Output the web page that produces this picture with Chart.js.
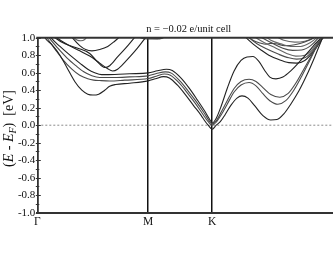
<!DOCTYPE html>
<html><head><meta charset="utf-8">
<script src="https://cdn.jsdelivr.net/npm/chart.js@4/dist/chart.umd.min.js"></script>
<style>html,body{margin:0;padding:0;background:#fff;overflow:hidden;width:333px;height:258px}canvas{display:block}</style>
</head><body>
<canvas id="c" width="346" height="258"></canvas>
<script>
const chartTitle = 'n = \u22120.02 e/unit cell';
const kPointLabels = ['\u0393', 'M', 'K', '\u0393'];
const kPointPos = [0, 0.5774, 0.9107, 1.5774];
const yMin = -1.0, yMax = 1.0, yStep = 0.2, yMinorStep = 0.1;

// bands: k (path coordinate) and E - E_F (eV)
const band1K = [0.014,0.040,0.076,0.118,0.154,0.195,0.232,0.263,0.289,0.320,0.351,0.377,0.408,0.481,0.577,0.615,0.657,0.688,0.729,0.771,0.812,0.854,0.869,0.890,0.911,0.932,0.953,0.978,1.009,1.040,1.066,1.097,1.133,1.175,1.216,1.248,1.284,1.320,1.362,1.403,1.445,1.486,1.507];
const band1E = [1.14,1.00,0.92,0.80,0.66,0.50,0.40,0.355,0.345,0.355,0.40,0.445,0.465,0.48,0.507,0.53,0.555,0.54,0.46,0.35,0.23,0.11,0.06,0.00,-0.046,0.00,0.04,0.12,0.23,0.31,0.335,0.31,0.22,0.11,0.06,0.065,0.13,0.24,0.39,0.57,0.78,1.00,1.10];

const band2K = [0.014,0.050,0.092,0.133,0.180,0.221,0.263,0.294,0.325,0.377,0.455,0.577,0.620,0.662,0.693,0.740,0.781,0.823,0.864,0.890,0.911,0.932,0.958,0.989,1.025,1.061,1.103,1.139,1.175,1.211,1.253,1.294,1.336,1.377,1.419,1.455,1.481,1.502];
const band2E = [1.12,1.00,0.87,0.75,0.64,0.57,0.53,0.515,0.51,0.505,0.515,0.533,0.56,0.585,0.57,0.48,0.37,0.25,0.12,0.04,0.00,0.035,0.12,0.24,0.38,0.46,0.488,0.45,0.36,0.28,0.24,0.28,0.40,0.56,0.74,0.90,1.00,1.10];

const band3K = [0.024,0.061,0.107,0.154,0.201,0.242,0.284,0.325,0.403,0.481,0.577,0.620,0.667,0.698,0.745,0.786,0.828,0.869,0.895,0.911,0.932,0.958,0.989,1.025,1.061,1.103,1.139,1.175,1.216,1.263,1.305,1.346,1.388,1.429,1.465,1.486,1.507];
const band3E = [1.12,1.00,0.88,0.77,0.68,0.61,0.565,0.545,0.545,0.552,0.564,0.59,0.61,0.595,0.50,0.39,0.27,0.14,0.05,0.015,0.05,0.15,0.28,0.42,0.50,0.526,0.50,0.43,0.35,0.32,0.36,0.48,0.64,0.80,0.94,1.00,1.08];

const band4K = [0.035,0.071,0.118,0.170,0.221,0.263,0.299,0.335,0.403,0.481,0.577,0.626,0.672,0.703,0.750,0.792,0.833,0.875,0.898,0.911,0.932,0.958,0.989,1.025,1.061,1.092,1.123,1.154,1.186,1.211,1.243,1.279,1.320,1.372,1.424,1.465,1.491,1.507];
const band4E = [1.12,1.00,0.90,0.80,0.71,0.64,0.60,0.578,0.58,0.588,0.598,0.622,0.64,0.625,0.535,0.42,0.29,0.15,0.065,0.025,0.08,0.22,0.42,0.62,0.74,0.78,0.785,0.73,0.62,0.55,0.53,0.55,0.62,0.74,0.87,0.97,1.00,1.05];

const bandV1K = [0.040,0.092,0.144,0.211,0.273,0.315,0.351,0.377,0.418,0.460,0.506,0.522];
const bandV1E = [1.10,1.00,0.93,0.88,0.82,0.72,0.66,0.68,0.78,0.88,1.00,1.04];
const bandV2K = [0.050,0.102,0.159,0.221,0.273,0.325,0.367,0.392,0.418,0.460,0.506,0.564,0.579];
const bandV2E = [1.10,1.00,0.92,0.85,0.79,0.71,0.645,0.62,0.64,0.73,0.84,1.00,1.04];
const bandSK = [0.170,0.190,0.221,0.252,0.284,0.325,0.367,0.403,0.434];
const bandSE = [1.04,0.98,0.91,0.865,0.85,0.865,0.90,0.96,1.02];
const bandLK = [0.180,0.206,0.227,0.247,0.263];
const bandLE = [1.02,0.975,0.965,0.98,1.02];
const bandT1K = [0.512,0.537,0.577,0.615,0.652,0.678];
const bandT1E = [1.04,1.00,0.985,0.985,0.995,1.03];
const bandT2K = [0.543,0.577,0.626,0.662];
const bandT2E = [1.03,0.995,0.99,1.01];

const bandU1K = [1.066,1.087,1.123,1.165,1.206,1.258,1.310,1.351,1.393,1.434,1.476,1.497];
const bandU1E = [1.05,1.00,0.93,0.86,0.80,0.75,0.715,0.71,0.74,0.83,0.96,1.04];
const bandU2K = [1.082,1.103,1.144,1.196,1.258,1.310,1.351,1.393,1.434,1.476,1.491];
const bandU2E = [1.05,1.00,0.93,0.87,0.81,0.77,0.755,0.77,0.85,0.98,1.04];
const bandU3K = [1.113,1.139,1.186,1.243,1.299,1.346,1.393,1.434,1.476,1.491];
const bandU3E = [1.05,1.00,0.94,0.88,0.82,0.79,0.80,0.87,1.00,1.05];
const bandU4K = [1.144,1.170,1.222,1.279,1.330,1.377,1.424,1.465,1.481];
const bandU4E = [1.04,1.00,0.94,0.88,0.855,0.86,0.91,1.00,1.05];
const bandU5K = [1.180,1.216,1.268,1.320,1.372,1.419,1.455,1.470];
const bandU5E = [1.03,0.97,0.93,0.90,0.90,0.94,1.00,1.04];
const bandU6K = [1.087,1.123,1.160,1.191,1.216,1.243,1.289,1.341,1.393,1.440,1.455];
const bandU6E = [1.03,0.97,0.94,0.925,0.935,0.93,0.91,0.92,0.95,1.00,1.03];
const bandU7K = [1.232,1.284,1.341,1.393,1.434,1.455];
const bandU7E = [1.03,0.97,0.95,0.96,0.99,1.02];

const fermiK = [0, 1.5774];
const fermiE = [0, 0];

function pts(ks, es) { return ks.map((k, i) => ({ x: k, y: es[i] })); }
function band(ks, es, color) {
  return { data: pts(ks, es), showLine: true, borderColor: color, borderWidth: 1.1,
           pointRadius: 0, fill: false, cubicInterpolationMode: 'monotone' };
}
const dark = '#222', mid = '#4a4a4a', light = '#666';
const datasets = [
  band(band1K, band1E, dark), band(band2K, band2E, mid), band(band3K, band3E, mid), band(band4K, band4E, dark),
  band(bandV1K, bandV1E, dark), band(bandV2K, bandV2E, dark), band(bandSK, bandSE, dark), band(bandLK, bandLE, light),
  band(bandT1K, bandT1E, mid), band(bandT2K, bandT2E, light),
  band(bandU1K, bandU1E, dark), band(bandU2K, bandU2E, mid), band(bandU3K, bandU3E, light), band(bandU4K, bandU4E, mid),
  band(bandU5K, bandU5E, light), band(bandU6K, bandU6E, mid), band(bandU7K, bandU7E, light),
  { data: pts(fermiK, fermiE), showLine: true, borderColor: '#8a8a8a', borderWidth: 1, borderDash: [2, 2], pointRadius: 0 }
];

const serif = "'Liberation Serif', 'Times New Roman', serif";

const decor = {
  id: 'decor',
  afterDraw(chart) {
    const { ctx, chartArea: a, scales: { y } } = chart;
    ctx.save();
    ctx.strokeStyle = '#333'; ctx.lineWidth = 2;
    ctx.beginPath(); ctx.moveTo(a.left - 1, a.top); ctx.lineTo(a.right, a.top); ctx.stroke();
    ctx.lineWidth = 1; ctx.strokeStyle = '#333';
    for (let v = yMin; v <= yMax + 1e-9; v += yMinorStep) {
      const py = Math.round(y.getPixelForValue(v)) + 0.5;
      const major = Math.abs(Math.round(v / yStep) * yStep - v) < 1e-6;
      ctx.beginPath();
      ctx.moveTo(a.left - 1.5, py);
      ctx.lineTo(a.left + (major ? 3.5 : 2), py);
      ctx.stroke();
    }
    ctx.fillStyle = '#111';
    ctx.font = '10.5px ' + serif;
    ctx.textAlign = 'center'; ctx.textBaseline = 'middle';
    ctx.fillText(chartTitle, (a.left + a.right) / 2, 29.5);
    ctx.translate(9, 128.5);
    ctx.rotate(-Math.PI / 2);
    const fs = 14;
    const parts = [
      { t: '(', f: fs + 'px ' + serif, dy: 0 },
      { t: 'E', f: 'italic ' + fs + 'px ' + serif, dy: 0 },
      { t: ' - ', f: fs + 'px ' + serif, dy: 0 },
      { t: 'E', f: 'italic ' + fs + 'px ' + serif, dy: 0 },
      { t: 'F', f: 'italic ' + Math.round(fs * 0.7) + 'px ' + serif, dy: 4 },
      { t: ')  [eV]', f: fs + 'px ' + serif, dy: 0 }
    ];
    let total = 0;
    parts.forEach(p => { ctx.font = p.f; p.w = ctx.measureText(p.t).width; total += p.w; });
    let x = -total / 2;
    ctx.textAlign = 'left'; ctx.textBaseline = 'middle';
    parts.forEach(p => { ctx.font = p.f; ctx.fillText(p.t, x, p.dy); x += p.w; });
    ctx.restore();
  }
};

new Chart(document.getElementById('c').getContext('2d'), {
  type: 'scatter',
  data: { datasets },
  options: {
    responsive: false, animation: false, devicePixelRatio: 1,
    layout: { padding: { top: 37.7, right: 4.4, left: 0, bottom: 0 } },
    plugins: { legend: { display: false }, tooltip: { enabled: false }, title: { display: false } },
    scales: {
      x: {
        type: 'linear', min: 0, max: kPointPos[kPointPos.length - 1],
        afterBuildTicks: s => { s.ticks = kPointPos.map(v => ({ value: v })); },
        afterFit: s => { s.height = 45.3; },
        ticks: { callback: (v, i) => kPointLabels[i], font: { family: serif, size: 11.5 }, color: '#111',
                 padding: 2.5, maxRotation: 0, autoSkip: false },
        grid: { color: '#111', lineWidth: 1.5, drawTicks: false },
        border: { display: true, color: '#333', width: 2 }
      },
      y: {
        min: yMin, max: yMax,
        afterFit: s => { s.width = 37.3; },
        ticks: { stepSize: yStep, callback: v => Number(v).toFixed(1), font: { family: serif, size: 11 }, color: '#111', padding: 2 },
        grid: { drawOnChartArea: false, drawTicks: false },
        border: { display: true, color: '#333', width: 1.5 }
      }
    }
  },
  plugins: [decor]
});
</script>
</body></html>
